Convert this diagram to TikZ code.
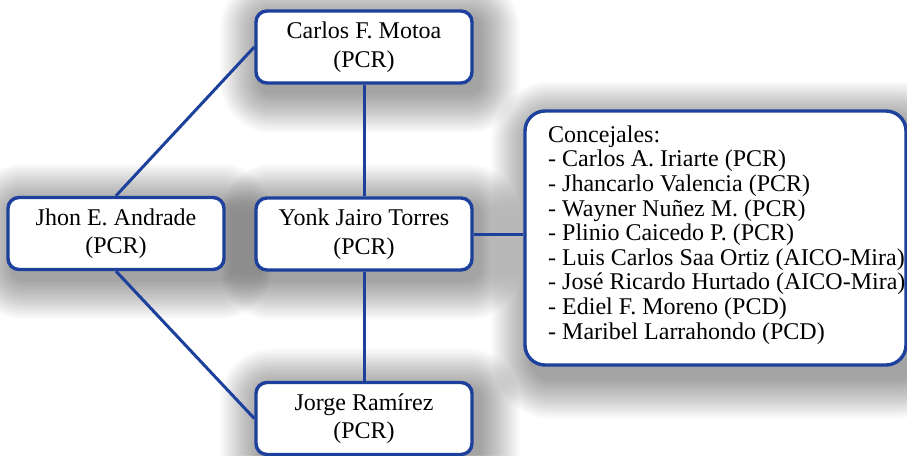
\documentclass[tikz,border=0pt]{standalone}
\usepackage{fontspec}
\setmainfont{Liberation Serif}
\usetikzlibrary{backgrounds,calc}

\definecolor{edgeblue}{RGB}{28,64,156}

\tikzset{
  person/.style={draw=edgeblue, line width=3.4pt, fill=white, rounded corners=11pt,
    minimum width=216pt, minimum height=72pt, inner sep=0pt, align=center,
    font=\fontsize{24}{28.5}\selectfont},
  council/.style={draw=edgeblue, line width=3.4pt, fill=white, rounded corners=20pt,
    minimum width=381pt, minimum height=254pt, inner sep=0pt},
  listtext/.style={inner sep=0pt, align=left, anchor=west,
    font=\fontsize{24}{24.6}\selectfont},
  link/.style={draw=edgeblue, line width=3pt},
  shadowlayer/.style={fill=black, fill opacity=0.019}
}

% soft shadow: stacked translucent rounded rectangles around a node
\newcommand{\softshade}[4]{% node, corner radius, x offset, y offset
  \foreach \r in {2,4,...,40}{
    \fill[shadowlayer, rounded corners={(#2+\r)*1pt}]
      ($(#1.north west)+(#3-\r,#4-\r)$) rectangle ($(#1.south east)+(#3+\r,#4+\r)$);
  }}

\begin{document}
\begin{tikzpicture}[x=1pt, y=-1pt]
  \useasboundingbox (0,0) rectangle (907,455);

  % people
  \node[person] (jhon)   at (116,233.5) {Jhon E. Andrade\\(PCR)};
  \node[person] (carlos) at (364,47)    {Carlos F. Motoa\\(PCR)};
  \node[person] (yonk)   at (364,234)   {Yonk Jairo Torres\\(PCR)};
  \node[person] (jorge)  at (364,418.5) {Jorge Ramírez\\(PCR)};

  % council members
  \node[council] (conc) at (715.5,238) {};
  \node[listtext] (members) at (548,235) {Concejales:\\
    - Carlos A. Iriarte (PCR)\\
    - Jhancarlo Valencia (PCR)\\
    - Wayner Nuñez M. (PCR)\\
    - Plinio Caicedo P. (PCR)\\
    - Luis Carlos Saa Ortiz (AICO-Mira)\\
    - José Ricardo Hurtado (AICO-Mira)\\
    - Ediel F. Moreno (PCD)\\
    - Maribel Larrahondo (PCD)};

  % shadows behind the boxes
  \begin{scope}[on background layer]
    \fill[white] (0,0) rectangle (907,455);
    \softshade{jhon}{11}{6}{8}
    \softshade{carlos}{11}{6}{8}
    \softshade{yonk}{11}{6}{8}
    \softshade{jorge}{11}{6}{8}
    \softshade{conc}{20}{8}{12}
  \end{scope}

  % connections
  \draw[link] (jhon.north) -- (carlos.west);
  \draw[link] (jhon.south) -- (jorge.west);
  \draw[link] (yonk.north) -- (carlos.south);
  \draw[link] (yonk.south) -- (jorge.north);
  \draw[link] (yonk.east) -- (yonk.east -| conc.west);
\end{tikzpicture}
\end{document}
